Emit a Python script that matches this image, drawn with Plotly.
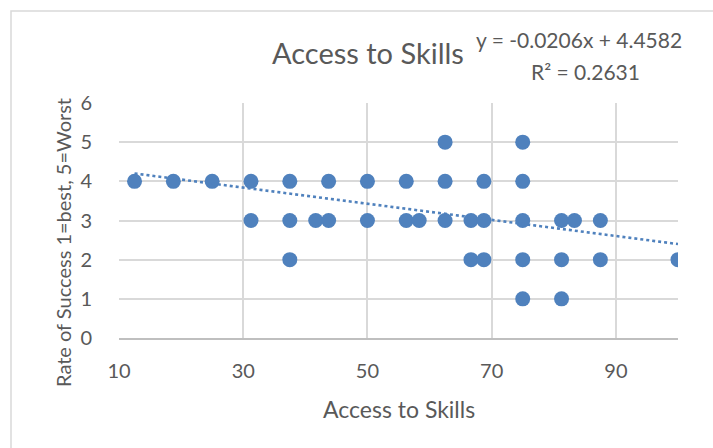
import plotly.graph_objects as go

# Survey responses: access-to-skills score vs. rate of success (1=best, 5=worst)
access_scores = [
    12.5, 18.75, 25, 31.25, 37.5, 43.75, 50, 56.25, 62.5, 68.75, 75,
    31.25, 37.5, 41.67, 43.75, 50, 56.25, 58.33, 62.5, 66.67, 68.75, 75, 81.25, 83.33, 87.5,
    37.5, 66.67, 68.75, 75, 81.25, 87.5, 100,
    62.5, 75,
    75, 81.25,
]
success_rates = [
    4, 4, 4, 4, 4, 4, 4, 4, 4, 4, 4,
    3, 3, 3, 3, 3, 3, 3, 3, 3, 3, 3, 3, 3, 3,
    2, 2, 2, 2, 2, 2, 2,
    5, 5,
    1, 1,
]

# Linear trendline coefficients
slope = -0.0206
intercept = 4.4582
r_squared = 0.2631

x_ticks = [10, 30, 50, 70, 90]
y_ticks = [0, 1, 2, 3, 4, 5, 6]

blue = "#4F81BD"
grid = "#D9D9D9"
text_col = "#595959"
font_family = "Lato, 'Open Sans', sans-serif"

trend_x = [min(access_scores), max(access_scores)]
trend_y = [slope * v + intercept for v in trend_x]

fig = go.Figure()
fig.add_trace(go.Scatter(
    x=access_scores, y=success_rates, mode="markers",
    marker=dict(size=15, color=blue, line=dict(width=0)),
    showlegend=False, hoverinfo="x+y",
))
fig.add_trace(go.Scatter(
    x=trend_x, y=trend_y, mode="lines",
    line=dict(color=blue, width=2.6, dash="dot"),
    showlegend=False, hoverinfo="skip",
))

W, H = 713, 448
left, right, top, bottom = 119, 678, 103, 338
pw, ph = right - left, bottom - top


def px(xp):
    return (xp - left) / pw


def py(yp):
    return (bottom - yp) / ph


fig.update_layout(
    width=W, height=H,
    margin=dict(l=left, r=W - right, t=top, b=H - bottom),
    paper_bgcolor="white", plot_bgcolor="white",
    font=dict(family=font_family, color=text_col),
    xaxis=dict(
        range=[10, 100], tickvals=x_ticks, ticktext=[str(v) for v in x_ticks],
        showgrid=True, gridcolor=grid, gridwidth=1.5,
        showline=True, linecolor="#BFBFBF", linewidth=1.5,
        zeroline=False, ticks="outside", ticklen=14, tickcolor="rgba(0,0,0,0)",
        tickfont=dict(size=20, color=text_col, family=font_family),
    ),
    yaxis=dict(
        range=[0, 6], tickvals=y_ticks,
        showgrid=True, gridcolor=grid, gridwidth=1.5,
        showline=False, zeroline=False,
        ticks="outside", ticklen=22, tickcolor="rgba(0,0,0,0)",
        tickfont=dict(size=20, color=text_col, family=font_family),
    ),
    shapes=[
        dict(type="rect", xref="paper", yref="paper",
             x0=px(11), x1=px(760), y0=py(500), y1=py(11),
             line=dict(color=grid, width=1.5), fillcolor="rgba(0,0,0,0)", layer="below"),
    ],
    annotations=[
        dict(text="Access to Skills", xref="paper", yref="paper",
             x=px(368), y=py(53), showarrow=False, xanchor="center", yanchor="middle",
             font=dict(size=29, color=text_col, family=font_family)),
        dict(text=f"y = {slope:.4f}x + {intercept:.4f}", xref="paper", yref="paper",
             x=px(579), y=py(40), showarrow=False, xanchor="center", yanchor="middle",
             font=dict(size=21, color=text_col, family=font_family)),
        dict(text=f"R² = {r_squared:.4f}", xref="paper", yref="paper",
             x=px(585), y=py(71), showarrow=False, xanchor="center", yanchor="middle",
             font=dict(size=21, color=text_col, family=font_family)),
        dict(text="Access to Skills", xref="paper", yref="paper",
             x=px(399), y=py(409), showarrow=False, xanchor="center", yanchor="middle",
             font=dict(size=23, color=text_col, family=font_family)),
        dict(text="Rate of Success 1=best, 5=Worst", xref="paper", yref="paper",
             x=px(63), y=py(243), showarrow=False, xanchor="center", yanchor="middle",
             textangle=-90,
             font=dict(size=20, color=text_col, family=font_family)),
    ],
)

fig.write_html("out.html")
